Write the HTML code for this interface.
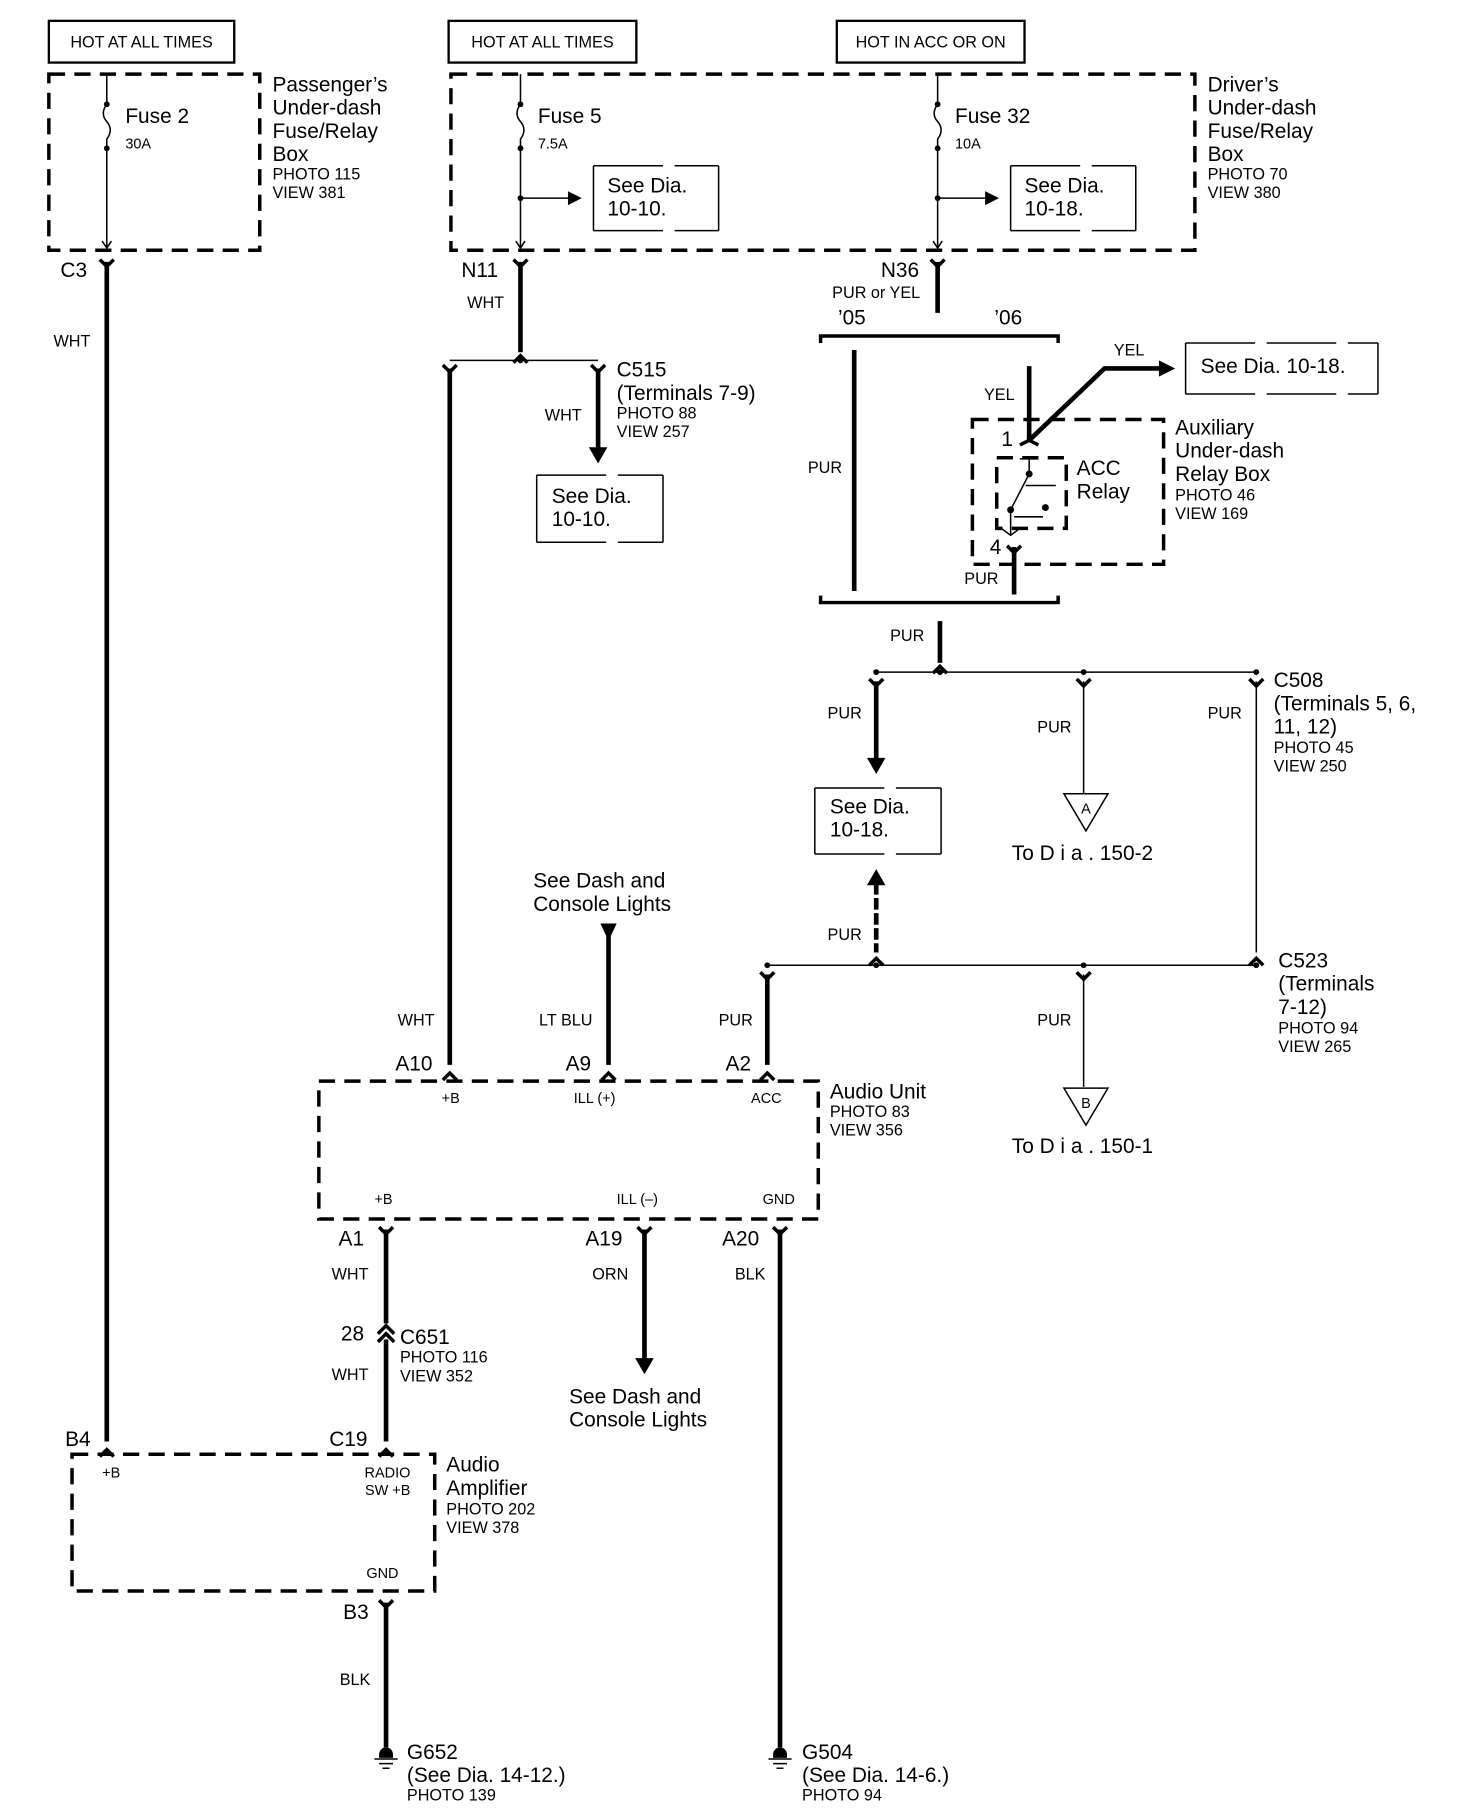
<!DOCTYPE html>
<html><head><meta charset="utf-8"><style>
html,body{margin:0;padding:0;background:#fff}
svg{display:block}
text{font-family:"Liberation Sans",sans-serif;fill:#000}
.L{font-size:18px}.M{font-size:14px}.S{font-size:12.5px}
.w{stroke:#000;stroke-width:4;fill:none}
.t{stroke:#000;stroke-width:1.3;fill:none}
.d{stroke:#000;stroke-width:3;fill:none;stroke-dasharray:14 8}
.b{stroke:#000;stroke-width:2;fill:none}
.c{stroke:#000;stroke-width:3;fill:none}
</style></head><body>
<svg width="1472" height="1810" viewBox="0 0 1270 1562" xmlns="http://www.w3.org/2000/svg">
<defs>
<path id="fd" d="M-6,-7 L0,-1 L6,-7" class="c"/>
<path id="fu" d="M-6,7 L0,1 L6,7" class="c"/>
</defs>
<!-- top boxes -->
<rect x="42" y="18" width="160" height="36" class="b"/><text x="122" y="41" class="M" text-anchor="middle">HOT AT ALL TIMES</text>
<rect x="387" y="18" width="162" height="36" class="b"/><text x="468" y="41" class="M" text-anchor="middle">HOT AT ALL TIMES</text>
<rect x="722" y="18" width="162" height="36" class="b"/><text x="803" y="41" class="M" text-anchor="middle">HOT IN ACC OR ON</text>
<!-- fuse boxes -->
<rect x="42" y="64" width="182" height="152" class="d"/>
<rect x="389" y="64" width="642" height="152" class="d"/>
<text class="L"><tspan x="235" y="79">Passenger’s</tspan><tspan x="235" y="99">Under-dash</tspan><tspan x="235" y="119">Fuse/Relay</tspan><tspan x="235" y="139">Box</tspan></text>
<text class="M"><tspan x="235" y="155">PHOTO 115</tspan><tspan x="235" y="171">VIEW 381</tspan></text>
<text class="L"><tspan x="1042" y="79">Driver’s</tspan><tspan x="1042" y="99">Under-dash</tspan><tspan x="1042" y="119">Fuse/Relay</tspan><tspan x="1042" y="139">Box</tspan></text>
<text class="M"><tspan x="1042" y="155">PHOTO 70</tspan><tspan x="1042" y="171">VIEW 380</tspan></text>
<!-- fuse 2 -->
<path d="M92,64 V88 M92,128 V214 M88,208 L92,214 L96,208" class="t"/>
<path d="M92,90 q-6,8 0,15 q6,7 0,15 V128" class="t"/><circle cx="92" cy="90" r="2.5"/><circle cx="92" cy="128" r="2.5"/>
<text x="108" y="106" class="L">Fuse 2</text><text x="108" y="128" class="S">30A</text>
<!-- fuse 5 -->
<path d="M449,64 V88 M449,128 V214 M445,208 L449,214 L453,208 M449,171 H492" class="t"/>
<path d="M449,90 q-6,8 0,15 q6,7 0,15 V128" class="t"/><circle cx="449" cy="90" r="2.5"/><circle cx="449" cy="128" r="2.5"/><circle cx="449" cy="171" r="2.5"/>
<path d="M490,165 L502,171 L490,177Z"/>
<text x="464" y="106" class="L">Fuse 5</text><text x="464" y="128" class="S">7.5A</text>
<path d="M512,143 V199 M620,143 V199 M512,143 H620 M512,199 H620" class="t" stroke-dasharray="60 10"/>
<text class="L"><tspan x="524" y="166">See Dia.</tspan><tspan x="524" y="186">10-10.</tspan></text>
<!-- fuse 32 -->
<path d="M809,64 V88 M809,128 V214 M805,208 L809,214 L813,208 M809,171 H852" class="t"/>
<path d="M809,90 q-6,8 0,15 q6,7 0,15 V128" class="t"/><circle cx="809" cy="90" r="2.5"/><circle cx="809" cy="128" r="2.5"/><circle cx="809" cy="171" r="2.5"/>
<path d="M850,165 L862,171 L850,177Z"/>
<text x="824" y="106" class="L">Fuse 32</text><text x="824" y="128" class="S">10A</text>
<path d="M872,143 V199 M980,143 V199 M872,143 H980 M872,199 H980" class="t" stroke-dasharray="60 10"/>
<text class="L"><tspan x="884" y="166">See Dia.</tspan><tspan x="884" y="186">10-18.</tspan></text>
<!-- C3 wire -->
<use href="#fd" x="92" y="231"/><path d="M92,226 V1244" class="w"/>
<text x="52" y="239" class="L">C3</text><text x="46" y="299" class="M">WHT</text>
<use href="#fu" x="92" y="1250"/><text x="56" y="1248" class="L">B4</text>
<!-- N11 -->
<use href="#fd" x="449" y="231"/><path d="M449,226 V304" class="w"/><use href="#fu" x="449" y="306"/>
<text x="398" y="239" class="L">N11</text><text x="403" y="266" class="M">WHT</text>
<path d="M388,311 H516" class="t"/><circle cx="449" cy="311" r="2.5"/>
<use href="#fd" x="388" y="322"/><path d="M388,318 V919" class="w"/><use href="#fu" x="388" y="925"/>
<use href="#fd" x="516" y="322"/><path d="M516,318 V388" class="w"/><path d="M508,386 L516,400 L524,386Z"/>
<text x="532" y="325" class="L">C515</text><text x="532" y="345" class="L">(Terminals 7-9)</text>
<text class="M"><tspan x="532" y="361">PHOTO 88</tspan><tspan x="532" y="377">VIEW 257</tspan></text>
<text x="470" y="363" class="M">WHT</text>
<path d="M463,410 V468 M572,410 V468 M463,410 H572 M463,468 H572" class="t" stroke-dasharray="60 10"/>
<text class="L"><tspan x="476" y="434">See Dia.</tspan><tspan x="476" y="454">10-10.</tspan></text>
<!-- N36 -->
<use href="#fd" x="809" y="231"/><path d="M809,226 V270" class="w"/>
<text x="760" y="239" class="L">N36</text><text x="718" y="257" class="M">PUR or YEL</text>
<text x="723" y="280" class="L">’05</text><text x="858" y="280" class="L">’06</text>
<path d="M708,296 V290 H913 V296" class="c"/>
<path d="M708,514 V520 H913 V514" class="c"/>
<path d="M737,302 V510" class="w"/><text x="697" y="408" class="M">PUR</text>
<path d="M888,316 V380" class="w"/><text x="849" y="345" class="M">YEL</text>
<path d="M888,380 L953,318 H1002" class="w"/><path d="M1000,311 L1014,318 L1000,325Z"/>
<text x="961" y="307" class="M">YEL</text>
<path d="M1023,296 V340 M1189,296 V340 M1023,296 H1189 M1023,340 H1189" class="t" stroke-dasharray="60 10"/>
<text x="1036" y="322" class="L">See Dia. 10-18.</text>
<rect x="839" y="362" width="165" height="125" class="d"/>
<rect x="860" y="395" width="60" height="61" class="d" stroke-dasharray="10 6"/>
<path d="M880,384 L888,380 L896,384" class="c"/>
<path d="M880,396 H896 M888,396 V409 L872,440 V462 M864,456 L872,462 L880,456 M875,446 H900 M885,419 H911" class="t" stroke-width="1.8"/>
<circle cx="888" cy="409" r="3"/><circle cx="872" cy="440" r="3"/><circle cx="902" cy="438" r="3"/>
<text x="864" y="385" class="L">1</text><text x="854" y="478" class="L">4</text>
<use href="#fd" x="875" y="478"/><path d="M875,472 V513" class="w"/><text x="832" y="504" class="M">PUR</text>
<text class="L"><tspan x="929" y="410">ACC</tspan><tspan x="929" y="430">Relay</tspan></text>
<text class="L"><tspan x="1014" y="375">Auxiliary</tspan><tspan x="1014" y="395">Under-dash</tspan><tspan x="1014" y="415">Relay Box</tspan></text>
<text class="M"><tspan x="1014" y="432">PHOTO 46</tspan><tspan x="1014" y="448">VIEW 169</tspan></text>
<!-- PUR distribution -->
<path d="M811,536 V572" class="w"/><use href="#fu" x="811" y="574"/><text x="768" y="553" class="M">PUR</text>
<path d="M756,580 H1084" class="t"/><circle cx="756" cy="580" r="2.5"/><circle cx="811" cy="580" r="2.5"/><circle cx="935" cy="580" r="2.5"/><circle cx="1084" cy="580" r="2.5"/>
<use href="#fd" x="756" y="593"/><path d="M756,588 V656" class="w"/><path d="M748,654 L756,668 L764,654Z"/><text x="714" y="620" class="M">PUR</text>
<use href="#fd" x="935" y="593"/><path d="M935,588 V685" class="t" stroke-width="3"/><text x="895" y="632" class="M">PUR</text>
<path d="M918,685 H956 L937,717Z" class="t" stroke-width="1.5"/><text x="937" y="702" class="S" text-anchor="middle">A</text>
<text x="873" y="742" class="L">To D i a .   150-2</text>
<use href="#fd" x="1084" y="593"/><path d="M1084,588 V822" class="t" stroke-width="3"/><use href="#fu" x="1084" y="826"/>
<text x="1042" y="620" class="M">PUR</text>
<text x="1099" y="593" class="L">C508</text><text class="L"><tspan x="1099" y="613">(Terminals 5, 6,</tspan><tspan x="1099" y="633">11, 12)</tspan></text>
<text class="M"><tspan x="1099" y="650">PHOTO 45</tspan><tspan x="1099" y="666">VIEW 250</tspan></text>
<path d="M703,680 V737 M812,680 V737 M703,680 H812 M703,737 H812" class="t" stroke-dasharray="60 10"/>
<text class="L"><tspan x="716" y="702">See Dia.</tspan><tspan x="716" y="722">10-18.</tspan></text>
<path d="M748,764 L756,750 L764,764Z"/><path d="M756,762 V822" class="w" stroke-dasharray="10 3"/><use href="#fu" x="756" y="826"/>
<text x="714" y="811" class="M">PUR</text>
<path d="M662,833 H1084" class="t"/><circle cx="662" cy="833" r="2.5"/><circle cx="756" cy="833" r="2.5"/><circle cx="935" cy="833" r="2.5"/><circle cx="1084" cy="833" r="2.5"/>
<text x="1103" y="835" class="L">C523</text><text class="L"><tspan x="1103" y="855">(Terminals</tspan><tspan x="1103" y="875">7-12)</tspan></text>
<text class="M"><tspan x="1103" y="892">PHOTO 94</tspan><tspan x="1103" y="908">VIEW 265</tspan></text>
<use href="#fd" x="662" y="846"/><path d="M662,841 V919" class="w"/><use href="#fu" x="662" y="925"/><text x="620" y="885" class="M">PUR</text>
<use href="#fd" x="935" y="846"/><path d="M935,841 V938" class="t" stroke-width="3"/><text x="895" y="885" class="M">PUR</text>
<path d="M918,939 H956 L937,971Z" class="t" stroke-width="1.5"/><text x="937" y="956" class="S" text-anchor="middle">B</text>
<text x="873" y="995" class="L">To D i a .   150-1</text>
<!-- A9 -->
<text class="L"><tspan x="460" y="766">See Dash and</tspan><tspan x="460" y="786">Console Lights</tspan></text>
<path d="M518,797 H532 L525,812Z"/><path d="M525,808 V919" class="w"/><use href="#fu" x="525" y="925"/>
<text x="465" y="885" class="M">LT BLU</text><text x="343" y="885" class="M">WHT</text>
<!-- audio unit -->
<rect x="275" y="933" width="431" height="119" class="d"/>
<text x="341" y="924" class="L">A10</text><text x="488" y="924" class="L">A9</text><text x="626" y="924" class="L">A2</text>
<text x="381" y="952" class="S">+B</text><text x="495" y="952" class="S">ILL (+)</text><text x="648" y="952" class="S">ACC</text>
<text x="323" y="1039" class="S">+B</text><text x="532" y="1039" class="S">ILL (–)</text><text x="658" y="1039" class="S">GND</text>
<text class="L"><tspan x="716" y="948">Audio Unit</tspan></text>
<text class="M"><tspan x="716" y="964">PHOTO 83</tspan><tspan x="716" y="980">VIEW 356</tspan></text>
<!-- bottom wires -->
<use href="#fd" x="333" y="1066"/><path d="M333,1061 V1142" class="w"/><path d="M326,1151 L333,1144 L340,1151 M326,1158 L333,1151 L340,1158" class="c"/><path d="M333,1156 V1244" class="w"/><use href="#fu" x="333" y="1250"/>
<text x="292" y="1075" class="L">A1</text><text x="286" y="1104" class="M">WHT</text>
<text x="294" y="1157" class="L">28</text><text x="345" y="1160" class="L">C651</text>
<text class="M"><tspan x="345" y="1176">PHOTO 116</tspan><tspan x="345" y="1192">VIEW 352</tspan></text>
<text x="286" y="1191" class="M">WHT</text><text x="284" y="1248" class="L">C19</text>
<use href="#fd" x="556" y="1066"/><path d="M556,1061 V1173" class="w"/><path d="M548,1172 L556,1186 L564,1172Z"/>
<text x="505" y="1075" class="L">A19</text><text x="511" y="1104" class="M">ORN</text>
<text class="L"><tspan x="491" y="1211">See Dash and</tspan><tspan x="491" y="1231">Console Lights</tspan></text>
<use href="#fd" x="673" y="1066"/><path d="M673,1061 V1508" class="w"/>
<text x="623" y="1075" class="L">A20</text><text x="634" y="1104" class="M">BLK</text>
<!-- amplifier -->
<rect x="62" y="1255" width="313" height="118" class="d"/>
<text x="88" y="1275" class="S">+B</text>
<text x="354" y="1275" class="S" text-anchor="end">RADIO</text><text x="354" y="1290" class="S" text-anchor="end">SW +B</text>
<text x="316" y="1362" class="S">GND</text>
<text class="L"><tspan x="385" y="1270">Audio</tspan><tspan x="385" y="1290">Amplifier</tspan></text>
<text class="M"><tspan x="385" y="1307">PHOTO 202</tspan><tspan x="385" y="1323">VIEW 378</tspan></text>
<use href="#fd" x="333" y="1388"/><path d="M333,1383 V1508" class="w"/>
<text x="296" y="1397" class="L">B3</text><text x="293" y="1454" class="M">BLK</text>
<!-- grounds -->
<g><path d="M327,1514 a6,6 0 0 1 12,0 v3 h-12z"/><path d="M323,1518 H343 M327,1522 H339 M330,1526 H336" class="t" stroke-width="1.6"/></g>
<g><path d="M667,1514 a6,6 0 0 1 12,0 v3 h-12z"/><path d="M663,1518 H683 M667,1522 H679 M670,1526 H676" class="t" stroke-width="1.6"/></g>
<text x="351" y="1518" class="L">G652</text><text x="351" y="1538" class="L">(See Dia. 14-12.)</text><text x="351" y="1554" class="M">PHOTO 139</text>
<text x="692" y="1518" class="L">G504</text><text x="692" y="1538" class="L">(See Dia. 14-6.)</text><text x="692" y="1554" class="M">PHOTO 94</text>
</svg>
</body></html>
